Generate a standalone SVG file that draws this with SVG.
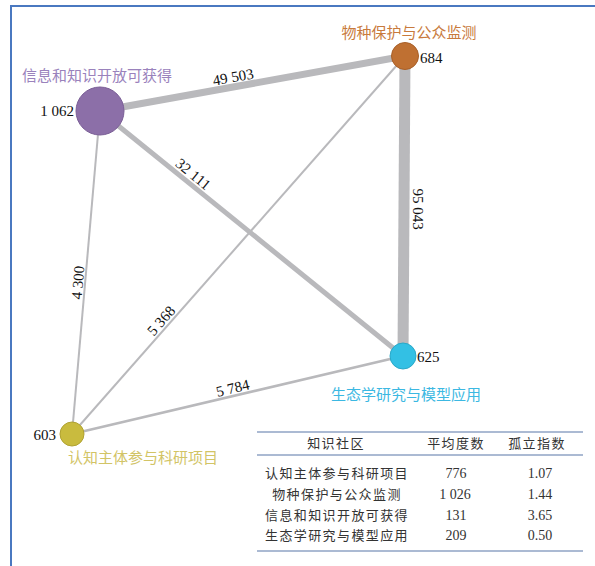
<svg xmlns="http://www.w3.org/2000/svg" width="595" height="566" viewBox="0 0 595 566">
<style>
.edge{stroke:#b9b9bc;fill:none;stroke-linecap:butt}
.num{font-family:"Liberation Serif","DejaVu Serif",serif;font-size:15px;fill:#111}
.elab{font-family:"Liberation Serif","DejaVu Serif",serif;font-size:15px;fill:#111;text-anchor:middle}
.cn{font-family:"Noto Sans CJK SC","Noto Sans",sans-serif;font-size:15px}
.tb{font-family:"Noto Sans CJK SC","Noto Sans",sans-serif;font-size:13px;fill:#333;text-anchor:middle;letter-spacing:1.4px}
.tn{font-family:"Liberation Serif","DejaVu Serif",serif;font-size:14px;fill:#333;text-anchor:middle}
.rule{stroke:#8fa3c4;stroke-width:1.5}
</style>
<rect width="595" height="566" fill="#ffffff"/>
<g id="frame" stroke="#4a78c0" stroke-width="2" fill="none">
<line x1="11" y1="6" x2="595" y2="6"/>
<line x1="11" y1="5" x2="11" y2="566"/>
</g>
<g id="connectors">
<line class="edge" x1="100" y1="111" x2="405" y2="56" stroke-width="7"/>
<line class="edge" x1="100" y1="111" x2="403" y2="356" stroke-width="5"/>
<line class="edge" x1="405" y1="56" x2="403" y2="356" stroke-width="11"/>
<line class="edge" x1="100" y1="111" x2="72" y2="434" stroke-width="2"/>
<line class="edge" x1="405" y1="56" x2="72" y2="434" stroke-width="2"/>
<line class="edge" x1="72" y1="434" x2="403" y2="356" stroke-width="2.5"/>
<text class="elab" transform="translate(234,82) rotate(-10.2)">49 503</text>
<text class="elab" transform="translate(190,178) rotate(39)">32 111</text>
<text class="elab" transform="translate(413,209) rotate(90)">95 043</text>
<text class="elab" transform="translate(83,283) rotate(-85)">4 300</text>
<text class="elab" transform="translate(165,324) rotate(-48.6)">5 368</text>
<text class="elab" transform="translate(234,393) rotate(-13.3)">5 784</text>
</g>
<g id="node-info">
<circle cx="100" cy="111" r="24" fill="#8c6fa8" stroke="#7a5e96" stroke-width="1"/>
<text class="num" x="74" y="116" text-anchor="end">1 062</text>
<text class="cn" x="97" y="81" text-anchor="middle" fill="#9a82bc">信息和知识开放可获得</text>
</g>
<g id="node-species">
<circle cx="405" cy="56" r="13.5" fill="#bf7032" stroke="#a85f28" stroke-width="1"/>
<text class="num" x="420" y="63">684</text>
<text class="cn" x="409" y="38" text-anchor="middle" fill="#c87a3c">物种保护与公众监测</text>
</g>
<g id="node-ecology">
<circle cx="403" cy="356" r="13" fill="#33c0e4" stroke="#2aa8c8" stroke-width="1"/>
<text class="num" x="417" y="362">625</text>
<text class="cn" x="406" y="400" text-anchor="middle" fill="#3cb8e2">生态学研究与模型应用</text>
</g>
<g id="node-cognition">
<circle cx="72" cy="434" r="12" fill="#c9bb3e" stroke="#b0a232" stroke-width="1"/>
<text class="num" x="56" y="440" text-anchor="end">603</text>
<text class="cn" x="143" y="463" text-anchor="middle" fill="#d2c466">认知主体参与科研项目</text>
</g>
<g id="table">
<line class="rule" x1="257" y1="432" x2="583" y2="432"/>
<line class="rule" x1="257" y1="455" x2="583" y2="455"/>
<line class="rule" x1="257" y1="551" x2="583" y2="551"/>
<text class="tb" x="336" y="448">知识社区</text>
<text class="tb" x="456" y="448">平均度数</text>
<text class="tb" x="537" y="448">孤立指数</text>
<text class="tb" x="337" y="478">认知主体参与科研项目</text>
<text class="tb" x="337" y="499">物种保护与公众监测</text>
<text class="tb" x="337" y="520">信息和知识开放可获得</text>
<text class="tb" x="337" y="540">生态学研究与模型应用</text>
<text class="tn" x="456" y="478">776</text>
<text class="tn" x="455" y="499">1 026</text>
<text class="tn" x="456" y="520">131</text>
<text class="tn" x="456" y="540">209</text>
<text class="tn" x="540" y="478">1.07</text>
<text class="tn" x="540" y="499">1.44</text>
<text class="tn" x="540" y="520">3.65</text>
<text class="tn" x="540" y="540">0.50</text>
</g>
</svg>
